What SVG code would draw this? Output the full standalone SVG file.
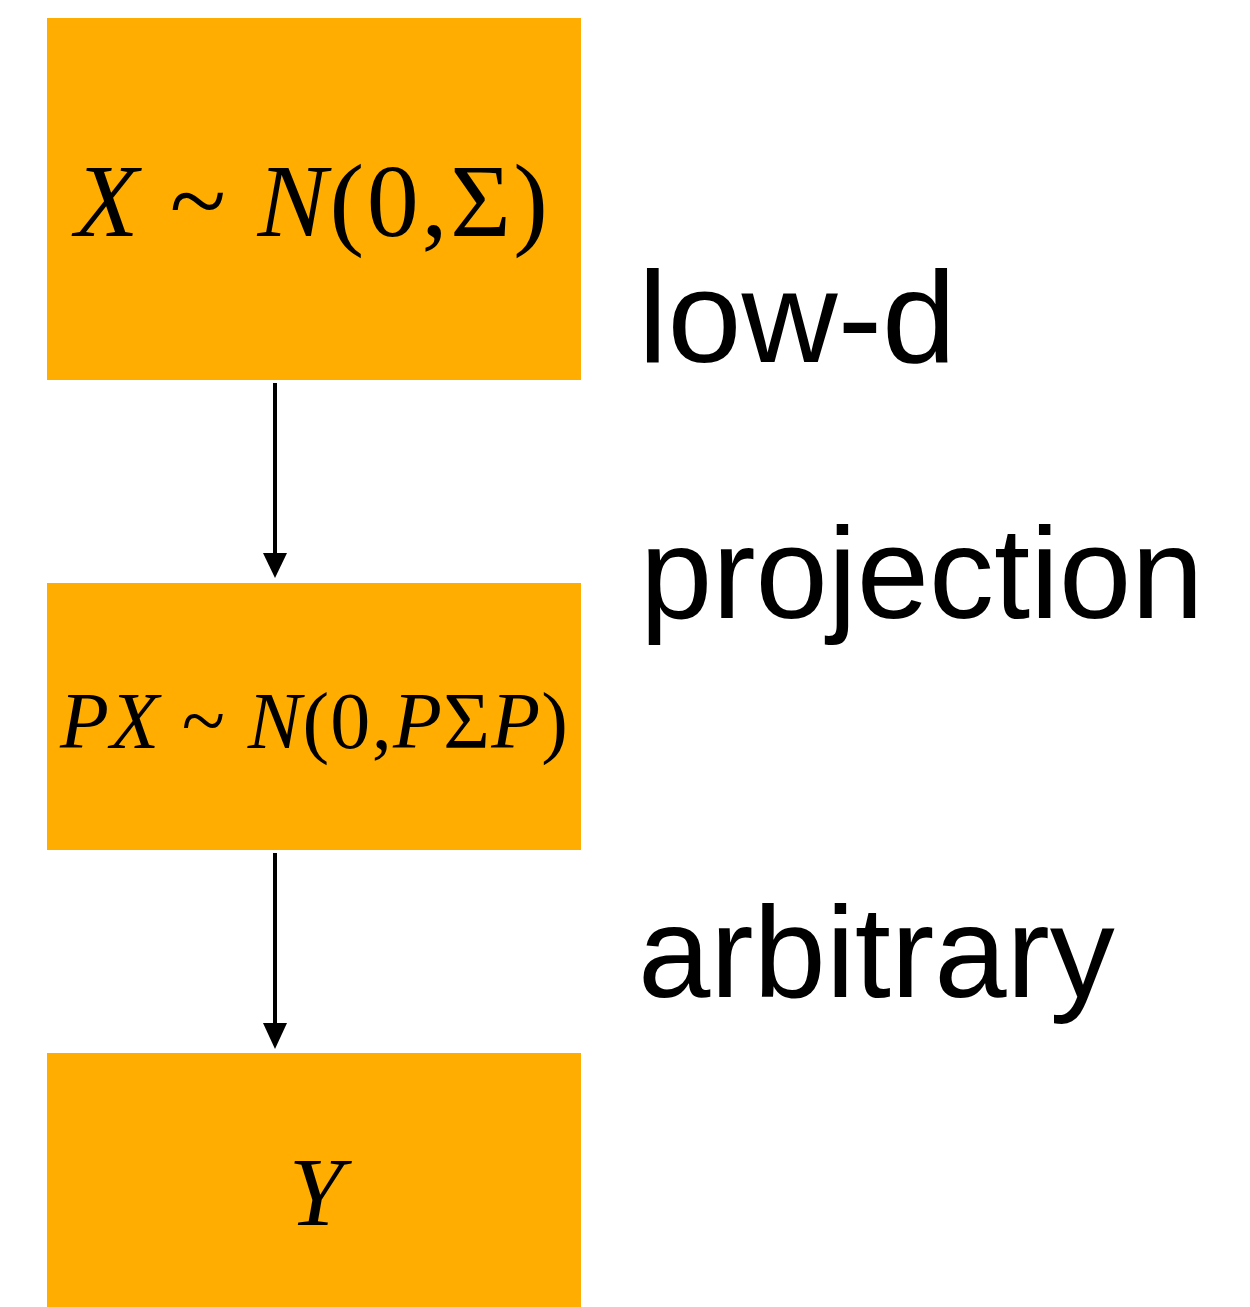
<svg xmlns="http://www.w3.org/2000/svg" width="1250" height="1307" viewBox="0 0 1250 1307">
<style>
.box{fill:#FFAD00}
.m{font-family:"Liberation Serif","Times New Roman",serif;fill:#000}
.i{font-style:italic}
.lbl{font-family:"Liberation Sans",Arial,sans-serif;font-size:130px;fill:#000}
.conn{stroke:#000;stroke-width:4;fill:none}
.head{fill:#000}
</style>
<rect width="1250" height="1307" fill="#fff"/>
<g id="node-x">
<rect class="box" x="47" y="18" width="534" height="362"/>
<text class="m" x="75" y="236" font-size="104" textLength="473" lengthAdjust="spacing"><tspan class="i">X</tspan> ~ <tspan class="i">N</tspan>(0,Σ)</text>
</g>
<g id="node-px">
<rect class="box" x="47" y="583" width="534" height="267"/>
<text class="m" x="60" y="748" font-size="80" textLength="508" lengthAdjust="spacing"><tspan class="i">PX</tspan> ~ <tspan class="i">N</tspan>(0,<tspan class="i">P</tspan>Σ<tspan class="i">P</tspan>)</text>
</g>
<g id="node-y">
<rect class="box" x="47" y="1053" width="534" height="254"/>
<text class="m i" x="316" y="1225" font-size="98" text-anchor="middle">Y</text>
</g>
<g id="labels">
<text class="lbl" x="638" y="362" textLength="318" lengthAdjust="spacingAndGlyphs">low-d</text>
<text class="lbl" x="640" y="618">projection</text>
<text class="lbl" x="638" y="997">arbitrary</text>
</g>
<g id="connectors">
<line class="conn" x1="275" y1="383" x2="275" y2="556"/>
<path class="head" d="M263,553 L287,553 L275,578 Z"/>
<line class="conn" x1="275" y1="853" x2="275" y2="1026"/>
<path class="head" d="M263,1023 L287,1023 L275,1049 Z"/>
</g>
</svg>
